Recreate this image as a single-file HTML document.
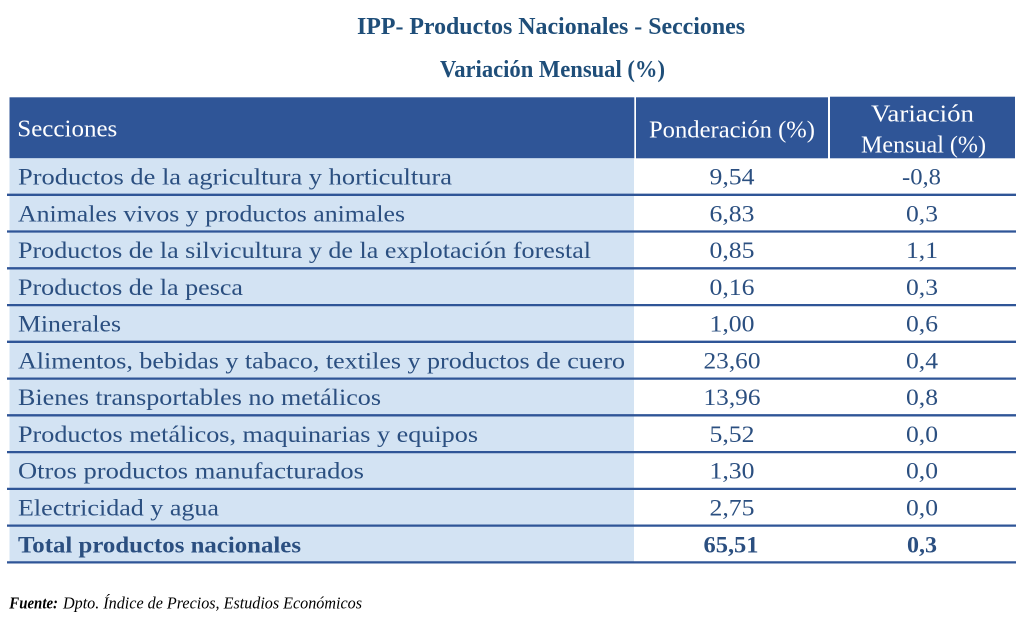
<!DOCTYPE html>
<html>
<head>
<meta charset="utf-8">
<style>
  html,body{margin:0;padding:0;background:#ffffff;}
  body{width:1024px;height:628px;overflow:hidden;}
  svg{display:block;}
  .t{font-family:"Liberation Serif",serif;}
</style>
</head>
<body>
<svg width="1024" height="628" viewBox="0 0 1024 628" xmlns="http://www.w3.org/2000/svg">
  <rect x="0" y="0" width="1024" height="628" fill="#ffffff"/>

  <!-- Titles -->
  <text class="t" x="357" y="34" font-size="24" font-weight="bold" fill="#1f4e79" textLength="388" lengthAdjust="spacingAndGlyphs">IPP- Productos Nacionales - Secciones</text>
  <text class="t" x="440" y="77" font-size="24" font-weight="bold" fill="#1f4e79" textLength="225" lengthAdjust="spacingAndGlyphs">Variación Mensual (%)</text>

  <!-- Header -->
  <rect x="9.5" y="97.3" width="624.8" height="61" fill="#2f5597"/>
  <rect x="636" y="97.3" width="192" height="61" fill="#2f5597"/>
  <rect x="830" y="96.7" width="185" height="61.6" fill="#2f5597"/>
  <text class="t" x="17.3" y="136.7" font-size="24.5" fill="#ffffff" textLength="100" lengthAdjust="spacingAndGlyphs">Secciones</text>
  <text class="t" x="649" y="137.5" font-size="24" fill="#ffffff" textLength="166" lengthAdjust="spacingAndGlyphs">Ponderación (%)</text>
  <text class="t" x="871" y="121.5" font-size="24" fill="#ffffff" textLength="103" lengthAdjust="spacingAndGlyphs">Variación</text>
  <text class="t" x="861" y="152.5" font-size="24" fill="#ffffff" textLength="125" lengthAdjust="spacingAndGlyphs">Mensual (%)</text>

  <!-- Light blue first column -->
  <rect x="9.5" y="158.3" width="624.5" height="404.5" fill="#d3e3f3"/>

  <!-- Row lines -->
  <g stroke="#2f5597" stroke-width="2.3">
    <line x1="7" y1="194.8" x2="1016" y2="194.8"/>
    <line x1="7" y1="231.5" x2="1016" y2="231.5"/>
    <line x1="7" y1="268.3" x2="1016" y2="268.3"/>
    <line x1="7" y1="305.1" x2="1016" y2="305.1"/>
    <line x1="7" y1="341.8" x2="1016" y2="341.8"/>
    <line x1="7" y1="378.6" x2="1016" y2="378.6"/>
    <line x1="7" y1="415.3" x2="1016" y2="415.3"/>
    <line x1="7" y1="452.1" x2="1016" y2="452.1"/>
    <line x1="7" y1="488.9" x2="1016" y2="488.9"/>
    <line x1="7" y1="525.6" x2="1016" y2="525.6"/>
    <line x1="7" y1="562.4" x2="1016" y2="562.4"/>
  </g>

  <!-- Row labels -->
  <g class="t" font-size="23" fill="#2b4f80">
    <text x="18" y="184.5" textLength="434" lengthAdjust="spacingAndGlyphs">Productos de la agricultura y horticultura</text>
    <text x="18" y="221.3" textLength="387" lengthAdjust="spacingAndGlyphs">Animales vivos y productos animales</text>
    <text x="18" y="258.0" textLength="573" lengthAdjust="spacingAndGlyphs">Productos de la silvicultura y de la explotación forestal</text>
    <text x="18" y="294.8" textLength="225" lengthAdjust="spacingAndGlyphs">Productos de la pesca</text>
    <text x="18" y="331.6" textLength="103" lengthAdjust="spacingAndGlyphs">Minerales</text>
    <text x="18" y="368.3" textLength="607" lengthAdjust="spacingAndGlyphs">Alimentos, bebidas y tabaco, textiles y productos de cuero</text>
    <text x="18" y="405.1" textLength="363" lengthAdjust="spacingAndGlyphs">Bienes transportables no metálicos</text>
    <text x="18" y="441.8" textLength="460" lengthAdjust="spacingAndGlyphs">Productos metálicos, maquinarias y equipos</text>
    <text x="18" y="478.6" textLength="346" lengthAdjust="spacingAndGlyphs">Otros productos manufacturados</text>
    <text x="18" y="515.4" textLength="201" lengthAdjust="spacingAndGlyphs">Electricidad y agua</text>
    <text x="18" y="552.3" font-weight="bold" textLength="283" lengthAdjust="spacingAndGlyphs">Total productos nacionales</text>
  </g>

  <!-- Ponderación -->
  <g class="t" font-size="23" fill="#2b4f80" text-anchor="middle">
    <text x="732" y="184.5" textLength="45" lengthAdjust="spacingAndGlyphs">9,54</text>
    <text x="732" y="221.3" textLength="45" lengthAdjust="spacingAndGlyphs">6,83</text>
    <text x="732" y="258.0" textLength="45" lengthAdjust="spacingAndGlyphs">0,85</text>
    <text x="732" y="294.8" textLength="45" lengthAdjust="spacingAndGlyphs">0,16</text>
    <text x="732" y="331.6" textLength="45" lengthAdjust="spacingAndGlyphs">1,00</text>
    <text x="732" y="368.3" textLength="57" lengthAdjust="spacingAndGlyphs">23,60</text>
    <text x="732" y="405.1" textLength="57" lengthAdjust="spacingAndGlyphs">13,96</text>
    <text x="732" y="441.8" textLength="45" lengthAdjust="spacingAndGlyphs">5,52</text>
    <text x="732" y="478.6" textLength="45" lengthAdjust="spacingAndGlyphs">1,30</text>
    <text x="732" y="515.4" textLength="45" lengthAdjust="spacingAndGlyphs">2,75</text>
    <text x="731" y="552.5" font-weight="bold" textLength="55" lengthAdjust="spacingAndGlyphs">65,51</text>
  </g>

  <!-- Variación mensual -->
  <g class="t" font-size="23" fill="#2b4f80" text-anchor="middle">
    <text x="921.5" y="184.5" textLength="39" lengthAdjust="spacingAndGlyphs">-0,8</text>
    <text x="922" y="221.3" textLength="32" lengthAdjust="spacingAndGlyphs">0,3</text>
    <text x="922" y="258.0" textLength="32" lengthAdjust="spacingAndGlyphs">1,1</text>
    <text x="922" y="294.8" textLength="32" lengthAdjust="spacingAndGlyphs">0,3</text>
    <text x="922" y="331.6" textLength="32" lengthAdjust="spacingAndGlyphs">0,6</text>
    <text x="922" y="368.3" textLength="32" lengthAdjust="spacingAndGlyphs">0,4</text>
    <text x="922" y="405.1" textLength="32" lengthAdjust="spacingAndGlyphs">0,8</text>
    <text x="922" y="441.8" textLength="32" lengthAdjust="spacingAndGlyphs">0,0</text>
    <text x="922" y="478.6" textLength="32" lengthAdjust="spacingAndGlyphs">0,0</text>
    <text x="922" y="515.4" textLength="32" lengthAdjust="spacingAndGlyphs">0,0</text>
    <text x="922" y="552.5" font-weight="bold" textLength="30" lengthAdjust="spacingAndGlyphs">0,3</text>
  </g>

  <!-- Footer -->
  <text class="t" x="9.3" y="608.3" font-size="17" font-weight="bold" font-style="italic" fill="#000000" textLength="48.7" lengthAdjust="spacingAndGlyphs">Fuente:</text>
  <text class="t" x="63" y="608.3" font-size="17" font-style="italic" fill="#000000" textLength="299" lengthAdjust="spacingAndGlyphs">Dpto. Índice de Precios, Estudios Económicos</text>
</svg>
</body>
</html>
